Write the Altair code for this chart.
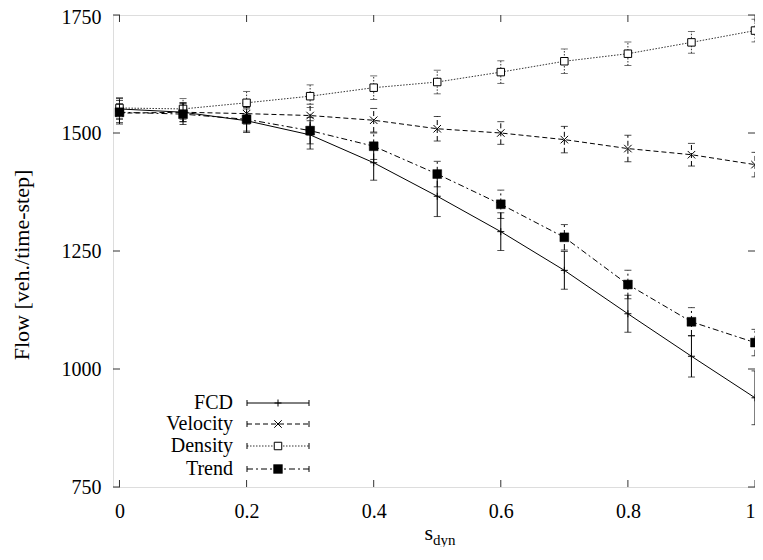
import altair as alt
import pandas as pd

# ---- data ----
x_vals = [0.0, 0.1, 0.2, 0.3, 0.4, 0.5, 0.6, 0.7, 0.8, 0.9, 1.0]

fcd = [1551, 1544, 1526, 1496, 1437, 1366, 1291, 1209, 1117, 1027, 939]
fcd_err = [22, 20, 25, 30, 37, 43, 40, 40, 39, 44, 57]

velocity = [1542, 1544, 1541, 1537, 1527, 1509, 1500, 1486, 1467, 1454, 1433]
velocity_err = [20, 20, 22, 24, 25, 26, 24, 28, 28, 24, 26]

density = [1553, 1551, 1564, 1578, 1596, 1608, 1629, 1652, 1668, 1692, 1717]
density_err = [22, 22, 24, 24, 25, 25, 24, 26, 25, 23, 24]

trend = [1544, 1540, 1529, 1505, 1472, 1413, 1349, 1279, 1179, 1100, 1056]
trend_err = [25, 22, 25, 28, 28, 27, 30, 27, 30, 30, 28]

series_names = ["FCD", "Velocity", "Density", "Trend"]
series_vals = [fcd, velocity, density, trend]
series_errs = [fcd_err, velocity_err, density_err, trend_err]

x_ticks = [0, 0.2, 0.4, 0.6, 0.8, 1.0]
y_ticks = [750, 1000, 1250, 1500, 1750]

# ---- layout ----
W, H = 642, 472
FONT = "Liberation Serif"
xs = alt.Scale(domain=[-0.0102, 1.0], nice=False, zero=False)
ys = alt.Scale(domain=[750, 1750], nice=False, zero=False)

xaxis = alt.Axis(values=x_ticks, format="~g", title=None, ticks=False, domain=False,
                 grid=False, labelFont=FONT, labelFontSize=20, labelColor="black",
                 labelPadding=14, labelFlush=False, labelOverlap=False,
                 labelOffset={"expr": "datum.value == 1 ? -5 : 0"})
yaxis = alt.Axis(values=y_ticks, format="d", title=None, ticks=False, domain=False,
                 grid=False, labelFont=FONT, labelFontSize=20, labelColor="black",
                 labelPadding=12, labelFlush=False, labelOverlap=False,
                 labelOffset={"expr": "datum.value == 1750 ? 2 : 0"})

X = alt.X("x:Q", scale=xs, axis=xaxis)
Y = alt.Y("y:Q", scale=ys, axis=yaxis)

PLUS = "M-1,0L1,0M0,-1L0,1"
CROSS = "M-1,-1L1,1M-1,1L1,-1"

styles = {
    "FCD": dict(dash=None, shape=PLUS, size=49, filled=False, color="black"),
    "Velocity": dict(dash=[5, 3], shape=CROSS, size=56, filled=False, color="black"),
    "Density": dict(dash=[1.5, 1.5], shape="square", size=56, filled=False, color="#333333"),
    "Trend": dict(dash=[6, 3, 2, 3], shape="square", size=78, filled=True, color="black"),
}


def mk(dash):
    return {} if dash is None else {"strokeDash": dash}


def point_mark(chart, st):
    if st["filled"]:
        return chart.mark_point(shape=st["shape"], size=st["size"], filled=True,
                                fill="black", stroke="black", strokeWidth=0.5, opacity=1)
    if st["shape"] == "square":
        return chart.mark_point(shape=st["shape"], size=st["size"], filled=False,
                                fill="white", stroke="black", strokeWidth=1, opacity=1)
    return chart.mark_point(shape=st["shape"], size=st["size"], filled=False,
                            stroke="black", strokeWidth=1, opacity=1)


layers = []
for name, vals, errs in zip(series_names, series_vals, series_errs):
    st = styles[name]
    df = pd.DataFrame({
        "x": x_vals,
        "y": vals,
        "lo": [v - e for v, e in zip(vals, errs)],
        "hi": [v + e for v, e in zip(vals, errs)],
    })
    base = alt.Chart(df)
    layers.append(base.mark_line(color=st["color"], strokeWidth=1,
                                 **mk(st["dash"])).encode(x=X, y=Y))
    layers.append(base.mark_rule(color=st["color"], strokeWidth=1,
                                 **mk(st["dash"])).encode(
        x=X, y=alt.Y("lo:Q", scale=ys, axis=yaxis), y2="hi:Q"))
    for col in ["lo", "hi"]:
        layers.append(base.mark_tick(orient="horizontal", size=7, thickness=1,
                                     color=st["color"]).encode(
            x=X, y=alt.Y(f"{col}:Q", scale=ys, axis=yaxis)))
    layers.append(point_mark(base, st).encode(x=X, y=Y))

# ---- inward tick marks on all four sides ----
TL = 7
xt = alt.Chart(pd.DataFrame({"t": x_ticks}))
yt = alt.Chart(pd.DataFrame({"t": y_ticks}))
XT = alt.X("t:Q", scale=xs, axis=xaxis)
YT = alt.Y("t:Q", scale=ys, axis=yaxis)
layers.append(xt.mark_rule(color="#333", strokeWidth=1).encode(x=XT, y=alt.value(H), y2=alt.value(H - TL)))
layers.append(xt.mark_rule(color="#333", strokeWidth=1).encode(x=XT, y=alt.value(0), y2=alt.value(TL)))
layers.append(yt.mark_rule(color="#333", strokeWidth=1).encode(y=YT, x=alt.value(0), x2=alt.value(TL)))
layers.append(yt.mark_rule(color="#333", strokeWidth=1).encode(y=YT, x=alt.value(W - TL), x2=alt.value(W)))

# ---- legend (bottom-left, inside the plot) ----
one = pd.DataFrame({"a": [0]})
leg_rows = [388, 409, 431, 454]
LX_TEXT, LX0, LX1, LXM = 120, 134, 196, 165
for name, ry in zip(series_names, leg_rows):
    st = styles[name]
    c = alt.Chart(one)
    layers.append(c.mark_text(text=name, font=FONT, fontSize=20, align="right",
                              baseline="middle", color="black").encode(
        x=alt.value(LX_TEXT), y=alt.value(ry)))
    layers.append(c.mark_rule(color=st["color"], strokeWidth=1, **mk(st["dash"])).encode(
        x=alt.value(LX0), x2=alt.value(LX1), y=alt.value(ry)))
    for cx in [LX0, LX1]:
        layers.append(c.mark_rule(color="black", strokeWidth=1).encode(
            x=alt.value(cx), y=alt.value(ry - 3), y2=alt.value(ry + 3)))
    layers.append(point_mark(c, st).encode(x=alt.value(LXM), y=alt.value(ry)))

# ---- axis titles ----
c = alt.Chart(one)
layers.append(c.mark_text(text="Flow [veh./time-step]", font=FONT, fontSize=22, angle=270,
                          align="center", baseline="middle", color="black").encode(
    x=alt.value(-91), y=alt.value(250)))
layers.append(c.mark_text(text="s", font=FONT, fontSize=22, align="right",
                          baseline="alphabetic", color="black").encode(
    x=alt.value(320), y=alt.value(525)))
layers.append(c.mark_text(text="dyn", font=FONT, fontSize=15, align="left",
                          baseline="alphabetic", color="black").encode(
    x=alt.value(320), y=alt.value(530)))

chart = alt.layer(*layers).properties(
    width=W, height=H,
    autosize=alt.AutoSizeParams(type="none"),
    padding={"left": 105, "top": 7, "right": 0, "bottom": 60},
).configure_view(stroke="#333333", strokeWidth=1).configure(background="white")

chart.save("out.html", embed_options={"renderer": "svg", "actions": False})
